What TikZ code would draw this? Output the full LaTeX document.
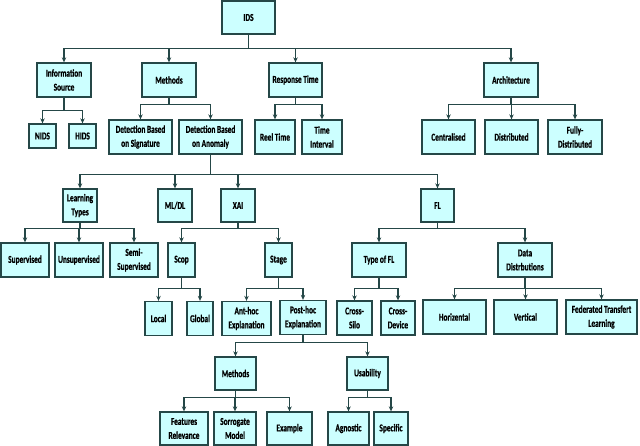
\documentclass[tikz,border=0pt]{standalone}
\usepackage{fontspec}
\newfontfamily\boxfont{Carlito}[FakeStretch=0.7,BoldFeatures={FakeBold=0.8}]
\usepackage{tikz}
\usetikzlibrary{positioning}
\usetikzlibrary {arrows.meta}
\definecolor{boxfill}{HTML}{CCFFFF}
\definecolor{boxline}{HTML}{254747}
\tikzset{idsbox/.style={rectangle,draw=boxline,fill=boxfill,line width=1.3pt,
inner sep=1pt,minimum height=34pt,align=center,
font=\boxfont\bfseries\fontsize{10.5}{14}\selectfont}}
\tikzset{idslink/.style={draw=boxline,line width=1.2pt,
-{Stealth[length=5pt,width=4.5pt]}}}

\begin{document}
\begin{tikzpicture}[x=1pt,y=-1pt]
        \useasboundingbox (0,0) rectangle (640,446);

        \node[idsbox,minimum width=53pt,minimum height=33pt] (boxIDS) at (248.5,17.5) {IDS};

        \node[idsbox,minimum width=54pt] (boxInfo) at (64,80) {Information\\Source};
        \node[idsbox,minimum width=54pt] (boxMeth) at (169,80) {Methods};
        \node[idsbox,minimum width=53pt] (boxResp) at (295.5,80) {Response Time};
        \node[idsbox,minimum width=54pt] (boxArch) at (511,80) {Architecture};

        \node[idsbox,minimum width=27pt,minimum height=24pt] (boxNIDS) at (42.5,136) {NIDS};
        \node[idsbox,minimum width=27pt,minimum height=24pt] (boxHIDS) at (82.5,136) {HIDS};
        \node[idsbox,minimum width=63pt] (boxSig) at (140.5,137) {Detection Based\\on Signature};
        \node[idsbox,minimum width=63pt] (boxAnom) at (210.5,137) {Detection Based\\on Anomaly};
        \node[idsbox,minimum width=40pt] (boxReel) at (275,137) {Reel Time};
        \node[idsbox,minimum width=40pt] (boxTime) at (322,137) {Time\\Interval};
        \node[idsbox,minimum width=53pt] (boxCent) at (448.5,137) {Centralised};
        \node[idsbox,minimum width=53pt] (boxDist) at (511.5,137) {Distributed};
        \node[idsbox,minimum width=54pt] (boxFull) at (575,137) {Fully-\\Distributed};

        \node[idsbox,minimum width=34pt,minimum height=33pt] (boxLearn) at (80,205.5) {Learning\\Types};
        \node[idsbox,minimum width=34pt,minimum height=33pt] (boxML) at (175,205.5) {ML/DL};
        \node[idsbox,minimum width=34pt,minimum height=33pt] (boxXAI) at (238,205.5) {XAI};
        \node[idsbox,minimum width=33pt,minimum height=33pt] (boxFL) at (437.5,205.5) {FL};

        \node[idsbox,minimum width=48pt] (boxSup) at (25,260) {Supervised};
        \node[idsbox,minimum width=48pt] (boxUnsup) at (79,260) {Unsupervised};
        \node[idsbox,minimum width=48pt] (boxSemi) at (134,260) {Semi-\\Supervised};
        \node[idsbox,minimum width=27pt] (boxScop) at (181.5,260) {Scop};
        \node[idsbox,minimum width=27pt] (boxStage) at (278.5,260) {Stage};
        \node[idsbox,minimum width=54pt] (boxType) at (379,260) {Type of FL};
        \node[idsbox,minimum width=54pt] (boxData) at (525,260) {Data\\Distrbutions};

        \node[idsbox,minimum width=27pt] (boxLocal) at (158.5,318.5) {Local};
        \node[idsbox,minimum width=26pt] (boxGlobal) at (200,318.5) {Global};
        \node[idsbox,minimum width=49pt] (boxAnt) at (246.5,318.5) {Ant-hoc\\Explanation};
        \node[idsbox,minimum width=46pt] (boxPost) at (303,317.5) {Post-hoc\\Explanation};
        \node[idsbox,minimum width=35pt] (boxSilo) at (354.5,318) {Cross-\\Silo};
        \node[idsbox,minimum width=34pt] (boxDevice) at (398,318) {Cross-\\Device};
        \node[idsbox,minimum width=63pt] (boxHoriz) at (454.5,317) {Horizental};
        \node[idsbox,minimum width=63pt] (boxVert) at (525.5,317) {Vertical};
        \node[idsbox,minimum width=71pt] (boxFedTL) at (601.5,317) {Federated Transfert\\Learning};

        \node[idsbox,minimum width=41pt,minimum height=33pt] (boxMethX) at (235.5,373.5) {Methods};
        \node[idsbox,minimum width=41pt,minimum height=33pt] (boxUsab) at (367.5,373.5) {Usability};

        \node[idsbox,minimum width=48pt,minimum height=33pt] (boxFeat) at (184,428.5) {Features\\Relevance};
        \node[idsbox,minimum width=42pt,minimum height=33pt] (boxSorr) at (235,428.5) {Sorrogate\\Model};
        \node[idsbox,minimum width=45pt,minimum height=33pt] (boxExam) at (289.5,428.5) {Example};
        \node[idsbox,minimum width=41pt,minimum height=33pt] (boxAgno) at (348.5,428.5) {Agnostic};
        \node[idsbox,minimum width=34pt,minimum height=33pt] (boxSpec) at (391,428.5) {Specific};

        \foreach \child in {boxInfo,boxMeth,boxResp,boxArch}
            \draw[idslink] (boxIDS.south) -- ++(0,14) -| (\child.north);
        \foreach \child in {boxNIDS,boxHIDS}
            \draw[idslink] (boxInfo.south) -- ++(0,13) -| (\child.north);
        \foreach \child in {boxSig,boxAnom}
            \draw[idslink] (boxMeth.south) -- ++(0,7) -| (\child.north);
        \foreach \child in {boxReel,boxTime}
            \draw[idslink] (boxResp.south) -- ++(0,7) -| (\child.north);
        \foreach \child in {boxCent,boxDist,boxFull}
            \draw[idslink] (boxArch.south) -- ++(0,7) -| (\child.north);

        \foreach \child in {boxLearn,boxML,boxXAI,boxFL}
            \draw[idslink] (boxAnom.south) -- ++(0,20) -| (\child.north);
        \foreach \child in {boxSup,boxUnsup,boxSemi}
            \draw[idslink] (boxLearn.south) -- ++(0,6) -| (\child.north);
        \foreach \child in {boxScop,boxStage}
            \draw[idslink] (boxXAI.south) -- ++(0,6) -| (\child.north);
        \foreach \child in {boxType,boxData}
            \draw[idslink] (boxFL.south) -- ++(0,6) -| (\child.north);

        \foreach \child in {boxLocal,boxGlobal}
            \draw[idslink] (boxScop.south) -- ++(0,11) -| (\child.north);
        \foreach \child in {boxAnt,boxPost}
            \draw[idslink] (boxStage.south) -- ++(0,11) -| (\child.north);
        \foreach \child in {boxSilo,boxDevice}
            \draw[idslink] (boxType.south) -- ++(0,11) -| (\child.north);
        \foreach \child in {boxHoriz,boxVert,boxFedTL}
            \draw[idslink] (boxData.south) -- ++(0,11) -| (\child.north);

        \foreach \child in {boxMethX,boxUsab}
            \draw[idslink] (boxPost.south) -- ++(0,7) -| (\child.north);
        \foreach \child in {boxFeat,boxSorr,boxExam}
            \draw[idslink] (boxMethX.south) -- ++(0,7) -| (\child.north);
        \foreach \child in {boxAgno,boxSpec}
            \draw[idslink] (boxUsab.south) -- ++(0,7) -| (\child.north);

    \end{tikzpicture}
\end{document}
